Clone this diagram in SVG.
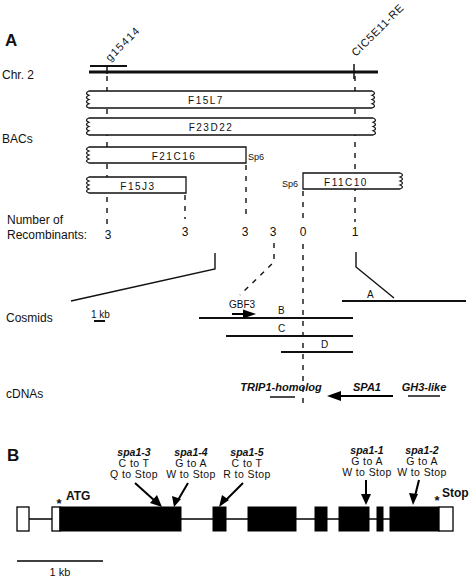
<svg xmlns="http://www.w3.org/2000/svg" width="474" height="579" viewBox="0 0 474 579">
<style>
text{font-family:"Liberation Sans",Arial,sans-serif;fill:#111}
.lab{font-size:12px}
.box{fill:#fff;stroke:#111;stroke-width:1.3}
.bl{font-size:10px;letter-spacing:1.5px;text-anchor:middle}
.sp{font-size:9px}
.num{font-size:12px;text-anchor:middle}
.dash{stroke:#111;stroke-width:1.4;stroke-dasharray:5 6;fill:none}
.ln{stroke:#111;stroke-width:1.4;fill:none}
.cos{stroke:#111;stroke-width:1.8}
.gene{font-size:11px;font-style:italic;font-weight:bold;text-anchor:middle}
.mut{font-size:10.5px;text-anchor:middle;letter-spacing:0.4px}
.spa{font-size:10.5px;font-style:italic;font-weight:bold;text-anchor:middle}
.ex{fill:#000;stroke:#000;stroke-width:1}
.wex{fill:#fff;stroke:#000;stroke-width:1.3}
.arr{stroke:#000;stroke-width:2}
</style>

<text x="5" y="46" style="font-size:17px;font-weight:bold">A</text>
<text x="7" y="461" style="font-size:17px;font-weight:bold">B</text>

<g id="chr2">
<text class="lab" x="2" y="79">Chr. 2</text>
<line x1="89" y1="72" x2="378" y2="72" stroke="#111" stroke-width="3"/>
<line x1="90" y1="66" x2="127" y2="66" stroke="#111" stroke-width="2"/>
<line x1="107" y1="66" x2="107" y2="74" stroke="#111" stroke-width="1.5"/>
<line x1="354" y1="64" x2="354" y2="79" stroke="#111" stroke-width="1.5"/>
<text x="110" y="62" transform="rotate(-45 110 62)" style="font-size:11px;letter-spacing:1.2px">g15414</text>
<text x="356" y="57" transform="rotate(-45 356 57)" style="font-size:11px;letter-spacing:0.6px">CIC5E11-RE</text>
</g>

<text class="lab" x="2" y="143">BACs</text>

<g id="connectors">
<line class="dash" x1="107" y1="76" x2="107" y2="226"/>
<line class="dash" x1="185" y1="195" x2="185" y2="219"/>
<line class="dash" x1="246" y1="165" x2="246" y2="219"/>
<line class="dash" x1="303" y1="191" x2="303" y2="222"/>
<line class="dash" x1="355" y1="76" x2="355" y2="222"/>
<line class="dash" x1="303" y1="244" x2="303" y2="408"/>
<polyline class="dash" points="274,243 274,262 240,295"/>
<polyline class="ln" points="215,253 215,269 71,301"/>
<polyline class="ln" points="356,252 356,267 394,298"/>
</g>

<g id="F15L7">
<path class="box" d="M89 91H372q5 2.125 0 4.25q5 2.125 0 4.25q5 2.125 0 4.25q5 2.125 0 4.25H89q-5 -2.125 0 -4.25q-5 -2.125 0 -4.25q-5 -2.125 0 -4.25q-5 -2.125 0 -4.25Z"/>
<text class="bl" x="206" y="104">F15L7</text>
</g>
<g id="F23D22">
<path class="box" d="M89 118H373q5 2.125 0 4.25q5 2.125 0 4.25q5 2.125 0 4.25q5 2.125 0 4.25H89q-5 -2.125 0 -4.25q-5 -2.125 0 -4.25q-5 -2.125 0 -4.25q-5 -2.125 0 -4.25Z"/>
<text class="bl" x="211" y="131">F23D22</text>
</g>
<g id="F21C16">
<path class="box" d="M89 147H246V163H89q-5 -2 0 -4q-5 -2 0 -4q-5 -2 0 -4q-5 -2 0 -4Z"/>
<text class="bl" x="174" y="160">F21C16</text>
<text class="sp" x="248" y="160">Sp6</text>
</g>
<g id="F15J3">
<path class="box" d="M89 177H186V193H89q-5 -2 0 -4q-5 -2 0 -4q-5 -2 0 -4q-5 -2 0 -4Z"/>
<text class="bl" x="138" y="190">F15J3</text>
</g>
<g id="F11C10">
<path class="box" d="M303 173H400q5 2 0 4q5 2 0 4q5 2 0 4q5 2 0 4H303Z"/>
<text class="bl" x="346" y="186">F11C10</text>
<text class="sp" x="282" y="187">Sp6</text>
</g>

<g id="recombinants">
<text class="lab" x="7" y="224">Number of</text>
<text class="lab" x="7" y="239">Recombinants:</text>
<text class="num" x="108" y="239">3</text>
<text class="num" x="185" y="236">3</text>
<text class="num" x="245" y="236">3</text>
<text class="num" x="273" y="236">3</text>
<text class="num" x="303" y="236">0</text>
<text class="num" x="355" y="236">1</text>
</g>

<g id="cosmids">
<text class="lab" x="6" y="322">Cosmids</text>
<text x="91" y="318" style="font-size:10px">1 kb</text>
<line x1="94" y1="321" x2="105" y2="321" stroke="#111" stroke-width="2"/>
<line class="cos" x1="342" y1="301" x2="466" y2="301"/>
<text x="367" y="298" style="font-size:10px">A</text>
<line class="cos" x1="199" y1="318" x2="353" y2="318"/>
<text x="278" y="314" style="font-size:10px">B</text>
<line class="cos" x1="226" y1="336" x2="353" y2="336"/>
<text x="278" y="332" style="font-size:10px">C</text>
<line class="cos" x1="281" y1="352" x2="353" y2="352"/>
<text x="321" y="348" style="font-size:10px">D</text>
<text x="229" y="308" style="font-size:10px">GBF3</text>
<line x1="232" y1="314" x2="245" y2="314" stroke="#000" stroke-width="2"/>
<polygon points="243,309.5 256,314 243,318.5" fill="#000"/>
</g>

<g id="cdnas">
<text class="lab" x="6" y="398">cDNAs</text>
<text class="gene" x="281" y="391">TRIP1-homolog</text>
<line x1="270" y1="397" x2="295" y2="397" stroke="#111" stroke-width="1.5"/>
<text class="gene" x="367" y="391">SPA1</text>
<line x1="393" y1="396" x2="338" y2="396" stroke="#000" stroke-width="2.2"/>
<polygon points="341,391 327,396 341,401" fill="#000"/>
<text class="gene" x="424" y="391">GH3-like</text>
<line x1="408" y1="396" x2="440" y2="396" stroke="#111" stroke-width="1.5"/>
</g>

<g id="gene-model">
<line x1="29" y1="519" x2="390" y2="519" stroke="#000" stroke-width="1.3"/>
<rect class="wex" x="17" y="507" width="12" height="24"/>
<rect class="wex" x="52" y="507" width="8" height="24"/>
<rect class="ex" x="60" y="507" width="121" height="24"/>
<rect class="ex" x="213" y="507" width="13" height="24"/>
<rect class="ex" x="248" y="507" width="48" height="24"/>
<rect class="ex" x="315" y="507" width="12" height="24"/>
<rect class="ex" x="339" y="507" width="30" height="24"/>
<rect class="ex" x="377" y="507" width="6" height="24"/>
<rect class="ex" x="390" y="507" width="49" height="24"/>
<rect class="wex" x="439" y="507" width="14" height="24"/>
<text x="59" y="508" style="font-size:13px;font-weight:bold;text-anchor:middle">*</text>
<text x="66" y="500" style="font-size:12px;font-weight:bold">ATG</text>
<text x="437" y="505" style="font-size:13px;font-weight:bold;text-anchor:middle">*</text>
<text x="442" y="497" style="font-size:12px;font-weight:bold">Stop</text>
</g>

<g id="spa1-3">
<text class="spa" x="134" y="456">spa1-3</text>
<text class="mut" x="134" y="467">C to T</text>
<text class="mut" x="134" y="478">Q to Stop</text>
<line class="arr" x1="135" y1="483" x2="155" y2="501"/>
<polygon points="150,503 162,507 157,495" fill="#000"/>
</g>
<g id="spa1-4">
<text class="spa" x="191" y="456">spa1-4</text>
<text class="mut" x="191" y="467">G to A</text>
<text class="mut" x="191" y="478">W to Stop</text>
<line class="arr" x1="188" y1="483" x2="178" y2="500"/>
<polygon points="172,496 174,507 181,499" fill="#000"/>
</g>
<g id="spa1-5">
<text class="spa" x="247" y="456">spa1-5</text>
<text class="mut" x="247" y="467">C to T</text>
<text class="mut" x="247" y="478">R to Stop</text>
<line class="arr" x1="243" y1="483" x2="225" y2="501"/>
<polygon points="222,495 219,507 229,500" fill="#000"/>
</g>
<g id="spa1-1">
<text class="spa" x="367" y="454">spa1-1</text>
<text class="mut" x="367" y="465">G to A</text>
<text class="mut" x="367" y="476">W to Stop</text>
<line class="arr" x1="366" y1="480" x2="366" y2="496"/>
<polygon points="361,494 366,505 371,494" fill="#000"/>
</g>
<g id="spa1-2">
<text class="spa" x="422" y="454">spa1-2</text>
<text class="mut" x="422" y="465">G to A</text>
<text class="mut" x="422" y="476">W to Stop</text>
<line class="arr" x1="419" y1="480" x2="415" y2="496"/>
<polygon points="409,493 413,505 418,494" fill="#000"/>
</g>

<g id="scale">
<line x1="17" y1="561" x2="103" y2="561" stroke="#000" stroke-width="1.3"/>
<text x="60" y="576" style="font-size:11px;text-anchor:middle">1 kb</text>
</g>
</svg>
